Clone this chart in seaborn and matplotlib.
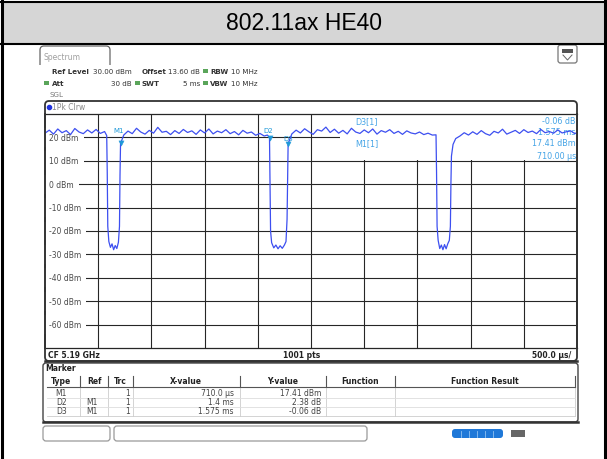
"""
802.11ax HE40 - zero span power vs time (R&S spectrum analyzer screenshot)
"""

import numpy as np
import pandas as pd
import matplotlib
matplotlib.use("Agg")
import matplotlib.pyplot as plt
import seaborn as sns
from matplotlib.patches import Rectangle, FancyBboxPatch

# -----------------------------
# 1. Data
# -----------------------------
# trace 1Pk Clrw, time in ms, level in dBm
time_ms = [
    0.00, 0.04, 0.08, 0.12, 0.16, 0.20, 0.24, 0.28, 0.32, 0.36, 0.40, 0.44, 0.48, 0.52, 0.56,
    0.58, 0.585, 0.59, 0.60, 0.615, 0.63, 0.645, 0.66, 0.675, 0.69, 0.70, 0.705, 0.71,
    0.74, 0.78, 0.82, 0.86, 0.90, 0.94, 0.98, 1.02, 1.06, 1.10, 1.14, 1.18, 1.22, 1.26, 1.30,
    1.34, 1.38, 1.42, 1.46, 1.50, 1.54, 1.58, 1.62, 1.66, 1.70, 1.74, 1.78, 1.82, 1.86, 1.90,
    1.94, 1.98, 2.02, 2.06,
    2.09, 2.105, 2.11, 2.115, 2.12, 2.13, 2.15, 2.17, 2.19, 2.21, 2.23, 2.25, 2.265, 2.275,
    2.28, 2.285,
    2.32, 2.36, 2.40, 2.44, 2.48, 2.52, 2.56, 2.60, 2.64, 2.68, 2.72, 2.76, 2.80, 2.84, 2.88,
    2.92, 2.96, 3.00, 3.04, 3.08, 3.12, 3.16, 3.20, 3.24, 3.28, 3.32, 3.36, 3.40, 3.44, 3.48,
    3.52, 3.56, 3.60, 3.64,
    3.675, 3.68, 3.685, 3.695, 3.71, 3.725, 3.74, 3.755, 3.77, 3.785, 3.80, 3.81, 3.815, 3.82,
    3.835, 3.86,
    3.90, 3.94, 3.98, 4.02, 4.06, 4.10, 4.14, 4.18, 4.22, 4.26, 4.30, 4.34, 4.38, 4.42, 4.46,
    4.50, 4.54, 4.58, 4.62, 4.66, 4.70, 4.74, 4.78, 4.82, 4.86, 4.90, 4.94, 4.98, 5.00,
]
level_dbm = [
    21.8, 23.1, 21.4, 23.6, 22.0, 22.9, 21.2, 23.8, 22.3, 21.6, 23.2, 21.9, 23.4, 21.7, 22.5,
    20.8, 5.0, -18.0, -24.5, -27.0, -25.5, -28.0, -26.2, -27.5, -24.8, -18.0, 4.0, 17.41,
    21.0, 22.7, 21.6, 23.9, 22.3, 21.4, 23.0, 21.8, 24.3, 22.2, 22.6, 21.2, 22.9, 21.7, 23.4,
    22.1, 22.8, 21.3, 23.2, 21.9, 23.6, 21.5, 22.7, 22.0, 23.3, 21.6, 22.5, 21.1, 23.0, 21.8,
    22.3, 20.9, 21.7, 20.6,
    21.0, 20.2, 19.79, 0.0, -20.0, -25.0, -27.2, -26.0, -27.6, -26.3, -27.4, -26.0, -24.5, -15.0,
    3.0, 17.35,
    21.5, 23.1, 21.9, 23.7, 22.4, 21.3, 23.3, 22.7, 24.4, 22.1, 23.5, 21.8, 23.0, 21.5, 23.9,
    22.3, 21.7, 23.2, 22.0, 23.6, 21.4, 22.9, 22.2, 23.3, 21.7, 22.6, 21.3, 22.8, 21.9, 21.5,
    22.3, 21.2, 21.8, 21.0,
    21.1, 5.0, -18.0, -24.0, -27.5, -26.0, -28.0, -25.8, -27.6, -25.5, -24.0, -18.0, 0.0, 12.0,
    17.0, 19.5,
    20.6, 22.0, 21.0, 22.4, 21.3, 22.9, 21.6, 20.9, 22.6, 21.9, 23.5, 21.4, 22.2, 23.0, 21.7,
    23.3, 22.1, 22.7, 21.6, 23.4, 22.0, 22.5, 21.8, 23.2, 21.9, 22.4, 22.8, 21.6, 22.1,
]

marker_names = ["M1", "D2", "D3"]
marker_time_ms = [0.71, 2.11, 2.285]
marker_level_dbm = [17.41, 19.79, 17.35]

grid_levels = [20, 10, 0, -10, -20, -30, -40, -50, -60]
grid_times = [0.5, 1.0, 1.5, 2.0, 2.5, 3.0, 3.5, 4.0, 4.5]

# marker table
table_cols = ["Type", "Ref", "Trc", "X-value", "Y-value", "Function", "Function Result"]
table_type = ["M1", "D2", "D3"]
table_ref = ["", "M1", "M1"]
table_trc = ["1", "1", "1"]
table_x = ["710.0 µs", "1.4 ms", "1.575 ms"]
table_y = ["17.41 dBm", "2.38 dB", "-0.06 dB"]

trace_df = pd.DataFrame({"t": time_ms, "lvl": level_dbm})
marker_df = pd.DataFrame({"t": marker_time_ms, "lvl": marker_level_dbm, "name": marker_names})

TRACE = "#3d4ff0"
MARK = "#1e98d8"
INFO = "#45a4e6"
TXT = "#333333"
FS = 5.5
HFS = 5.1
FONT = "DejaVu Sans"

# -----------------------------
# 2. Figure + pixel background
# -----------------------------
fig = plt.figure(figsize=(6.07, 4.60), dpi=100)
bg = fig.add_axes([0, 0, 1, 1])
bg.set_xlim(0, 607)
bg.set_ylim(460, 0)
bg.axis("off")

# title band
bg.add_patch(Rectangle((2, 3), 602, 41, facecolor="#d6d6d6", edgecolor="none"))
bg.plot([1.5, 1.5], [0, 460], color="black", lw=2.2)
bg.plot([605, 605], [0, 460], color="black", lw=2.2)
bg.plot([0, 607], [2.5, 2.5], color="black", lw=1.5)
bg.plot([0, 607], [44.5, 44.5], color="black", lw=1.5)
bg.text(304, 23, "802.11ax HE40", ha="center", va="center", fontsize=16.5,
        family="Liberation Sans", color="black")

# spectrum tab and top-right icon
bg.add_patch(FancyBboxPatch((40, 47), 70, 24, boxstyle="round,pad=0,rounding_size=4",
                            facecolor="white", edgecolor="#666666", lw=0.9))
bg.add_patch(Rectangle((38, 66), 75, 8, facecolor="white", edgecolor="none"))
bg.text(44, 58, "Spectrum", fontsize=FS, color="#a0a0a0", va="center", family=FONT)
bg.add_patch(FancyBboxPatch((558, 46), 19, 18, boxstyle="round,pad=0,rounding_size=2.5",
                            facecolor="white", edgecolor="#777777", lw=0.9))
bg.add_patch(Rectangle((562, 50), 11, 4, facecolor="#555555", edgecolor="none"))
bg.plot([563, 567.5, 572], [56, 61, 56], color="#666666", lw=0.7)

# header settings
def hdr(x, y, s, bold=False, ha="left"):
    bg.text(x, y, s, fontsize=HFS, color=TXT, va="center", ha=ha, family=FONT,
            fontweight="bold" if bold else "normal")

def led(x, y):
    bg.add_patch(Rectangle((x, y - 1.8), 4.5, 3.6, facecolor="#5aa55a", edgecolor="none"))

hdr(52, 72, "Ref Level", bold=True)
hdr(132, 72, "30.00 dBm", ha="right")
hdr(142, 72, "Offset", bold=True)
hdr(200, 72, "13.60 dB", ha="right")
led(203, 72)
hdr(210, 72, "RBW", bold=True)
hdr(231, 72, "10 MHz")
led(44, 84)
hdr(52, 84, "Att", bold=True)
hdr(132, 84, "30 dB", ha="right")
led(135, 84)
hdr(142, 84, "SWT", bold=True)
hdr(200, 84, "5 ms", ha="right")
led(203, 84)
hdr(210, 84, "VBW", bold=True)
hdr(231, 84, "10 MHz")
bg.text(49, 95, "SGL", fontsize=HFS, color="#777777", va="center", family=FONT)

# spectrum panel frame
bg.add_patch(FancyBboxPatch((45, 102), 532, 260, boxstyle="round,pad=0,rounding_size=4",
                            facecolor="white", edgecolor="#333333", lw=1.3))
bg.plot([45, 577], [362, 362], color="#333333", lw=1.8)
bg.scatter([49], [107.5], s=9, color="#2233dd", zorder=3)
bg.text(52, 107.5, "1Pk Clrw", fontsize=FS, color="#888888", va="center", family=FONT)
bg.text(48, 356, "CF 5.19 GHz", fontsize=FS, color="#222222", va="center",
        family=FONT, fontweight="bold")
bg.text(302, 356, "1001 pts", fontsize=FS, color="#222222", va="center", ha="center",
        family=FONT, fontweight="bold")
bg.text(571, 356, "500.0 µs/", fontsize=FS, color="#222222", va="center", ha="right",
        family=FONT, fontweight="bold")

# -----------------------------
# 3. Trace axes
# -----------------------------
ax = fig.add_axes([45 / 607, 1 - 349 / 460, 532 / 607, 234 / 460])
ax.set_xlim(0, 5)
ax.set_ylim(-70, 30)
ax.set_xticks(grid_times)
ax.set_yticks(grid_levels)
ax.tick_params(length=0, labelbottom=False, labelleft=False)
ax.set_axisbelow(True)
ax.grid(True, color="#262626", lw=0.8)
ax.patch.set_alpha(0)
for side in ["left", "right"]:
    ax.spines[side].set_linewidth(1.4)
    ax.spines[side].set_color("#333333")
    ax.spines[side].set_zorder(5)
for side in ["top", "bottom"]:
    ax.spines[side].set_linewidth(0.9)
    ax.spines[side].set_color("#262626")

# marker info box hides the grid in the top right
ax.add_patch(Rectangle((2.77, 10.3), 2.23, 19.7, facecolor="white", edgecolor="none", zorder=1))

# level labels sit on the grid lines, inside the grid
for lvl in grid_levels:
    ax.text(0.04, lvl, f"{lvl} dBm", fontsize=FS, color="#4a4a4a", va="center", ha="left",
            family=FONT, zorder=2.4,
            bbox=dict(facecolor="white", edgecolor="none", pad=3.6))

sns.lineplot(data=trace_df, x="t", y="lvl", ax=ax, color=TRACE, lw=0.9,
             estimator=None, sort=False, zorder=3)
sns.scatterplot(data=marker_df, x="t", y="lvl", ax=ax, color=MARK, marker="v", s=14,
                edgecolor=MARK, zorder=4, legend=False)
ax.set_xlabel("")
ax.set_ylabel("")

# marker labels near the trace
label_pos = {"M1": (113, 131), "D2": (263, 131), "D3": (283, 139)}
for name in marker_names:
    px, py = label_pos[name]
    ax.text(px, py, name, fontsize=FS - 0.5, color=MARK, va="center", family=FONT,
            transform=bg.transData, zorder=2.6)

# marker info (top right)
info = [(355, 122, "D3[1]", "left"), (576, 122, "-0.06 dB", "right"),
        (576, 133, "1.575 ms", "right"), (355, 144, "M1[1]", "left"),
        (576, 144, "17.41 dBm", "right"), (576, 157, "710.00 µs", "right")]
for px, py, s, ha in info:
    ax.text(px, py, s, fontsize=FS + 0.3, color=INFO, va="center", ha=ha, family=FONT,
            transform=bg.transData, zorder=2.5)

# -----------------------------
# 4. Marker table
# -----------------------------
bg.add_patch(FancyBboxPatch((43, 364), 535, 59, boxstyle="round,pad=0,rounding_size=3",
                            facecolor="white", edgecolor="#444444", lw=1.0))
bg.plot([43, 578], [423, 423], color="#333333", lw=1.8)
bg.text(45, 369, "Marker", fontsize=FS, color="#222222", va="center", family=FONT,
        fontweight="bold")

col_centers = [61, 94, 120, 186, 283, 360, 485]
col_seps = [80, 108, 133, 240, 326, 395, 575]
for c, s in zip(col_centers, table_cols):
    bg.text(c, 382, s, fontsize=FS, color="#222222", va="center", ha="center",
            family=FONT, fontweight="bold")
for x in col_seps:
    bg.plot([x, x], [377, 388], color="#555555", lw=0.8)
    bg.plot([x, x], [389, 417], color="#cccccc", lw=0.6)
bg.plot([47, 575], [388, 388], color="#555555", lw=0.8)
bg.plot([47, 575], [398.5, 398.5], color="#dddddd", lw=0.6)
bg.plot([47, 575], [407.5, 407.5], color="#dddddd", lw=0.6)
bg.plot([47, 575], [417, 417], color="#cccccc", lw=0.6)

row_y = [393.5, 403, 412]
for i, y in enumerate(row_y):
    for x, s in [(67, table_type[i]), (98, table_ref[i]), (130, table_trc[i]),
                 (234, table_x[i]), (321, table_y[i])]:
        bg.text(x, y, s, fontsize=FS, color="#444444", va="center", ha="right", family=FONT)

# -----------------------------
# 5. Status bar
# -----------------------------
bg.add_patch(FancyBboxPatch((43, 427), 67, 15, boxstyle="round,pad=0,rounding_size=3",
                            facecolor="white", edgecolor="#999999", lw=0.9))
bg.add_patch(FancyBboxPatch((114, 427), 253, 15, boxstyle="round,pad=0,rounding_size=3",
                            facecolor="white", edgecolor="#999999", lw=0.9))
bg.add_patch(FancyBboxPatch((452, 430), 51, 9, boxstyle="round,pad=0,rounding_size=3",
                            facecolor="#1f78d8", edgecolor="none"))
for x in [461, 469, 477, 485, 493]:
    bg.plot([x, x], [431.5, 437.5], color="#8fc0f0", lw=0.6)
bg.add_patch(Rectangle((511, 431), 14, 7, facecolor="#666666", edgecolor="none"))

plt.savefig("out.png", dpi=100)
plt.close()
print("Saved out.png")
